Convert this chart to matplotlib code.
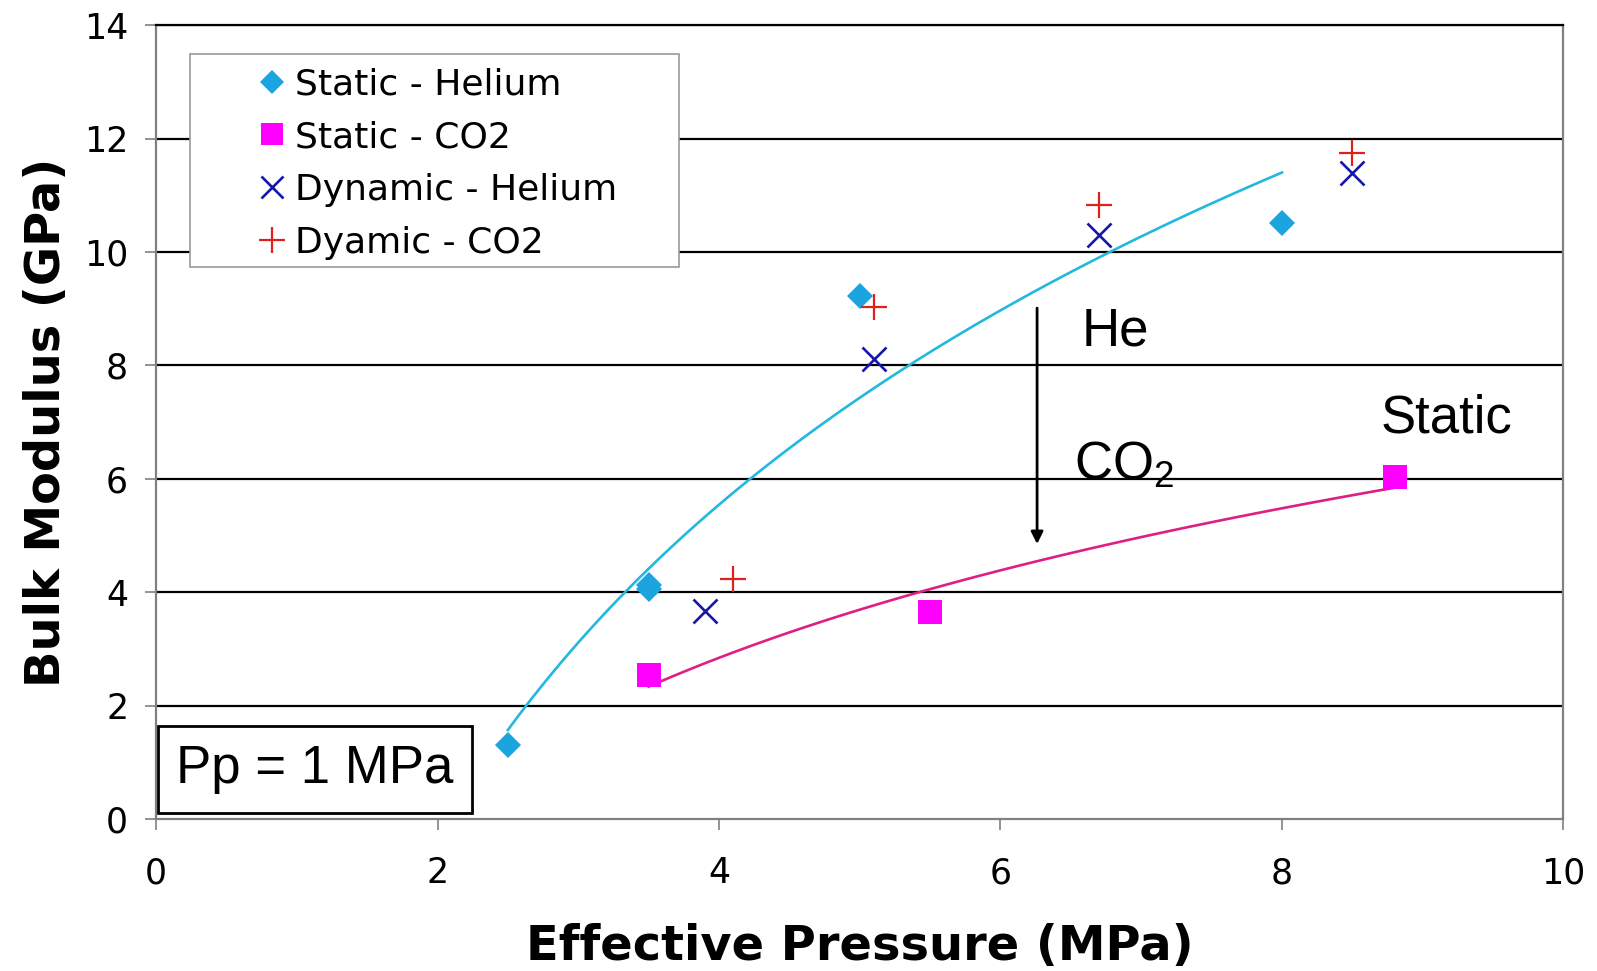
import numpy as np
import matplotlib
matplotlib.use('Agg')
import matplotlib.pyplot as plt
from matplotlib.patches import Rectangle

plt.rcParams['mathtext.fontset'] = 'custom'
plt.rcParams['mathtext.rm'] = 'Liberation Sans'

# Data (Effective Pressure MPa, Bulk Modulus GPa)
static_he_x = [2.5, 3.5, 3.5, 5.0, 8.0]
static_he_y = [1.3, 4.13, 4.06, 9.22, 10.52]
static_co2_x = [3.5, 5.5, 8.8]
static_co2_y = [2.54, 3.65, 6.04]
dyn_he_x = [3.9, 5.1, 6.7, 8.5]
dyn_he_y = [3.67, 8.11, 10.3, 11.4]
dyn_co2_x = [4.1, 5.1, 6.7, 8.5]
dyn_co2_y = [4.23, 9.03, 10.83, 11.74]

x_ticks = [0, 2, 4, 6, 8, 10]
y_ticks = [0, 2, 4, 6, 8, 10, 12, 14]


def log_trend(x, y, n=100):
    """Excel-style logarithmic trendline y = a ln(x) + b."""
    a, b = np.polyfit(np.log(x), y, 1)
    xs = np.linspace(min(x), max(x), n)
    return xs, a * np.log(xs) + b


fig = plt.figure(figsize=(15.97, 9.71), dpi=100)
ax = fig.add_axes([0.0977, 0.1566, 0.8813, 0.8174])

# trendlines
xs, ys = log_trend(static_he_x, static_he_y)
ax.plot(xs, ys, color='#22B8DF', linewidth=1.9, zorder=3)
xs, ys = log_trend(static_co2_x, static_co2_y)
ax.plot(xs, ys, color='#DE1F84', linewidth=1.9, zorder=3)

ax.plot(static_he_x, static_he_y, 'D', color='#1BA4E0', markersize=13,
        markeredgewidth=0, label='Static - Helium', zorder=4)
ax.plot(static_co2_x, static_co2_y, 's', color='#FF00FF', markersize=17,
        markeredgewidth=0, label='Static - CO2', zorder=4)
ax.plot(dyn_he_x, dyn_he_y, 'x', color='#1616A8', markersize=17,
        markeredgewidth=1.9, label='Dynamic - Helium', zorder=4)
ax.plot(dyn_co2_x, dyn_co2_y, '+', color='#E0201C', markersize=19,
        markeredgewidth=1.6, label='Dyamic - CO2', zorder=4)

ax.set_xlim(0, 10)
ax.set_ylim(0, 14)
ax.set_xticks(x_ticks)
ax.set_yticks(y_ticks)
ax.tick_params(axis='both', direction='out', length=8, width=1.2,
               color='#808080', labelsize=25)
ax.tick_params(axis='x', pad=19)
ax.tick_params(axis='y', pad=12)

ax.yaxis.grid(True, color='black', linewidth=1.6)
ax.yaxis.get_gridlines()[0].set_visible(False)
ax.set_axisbelow(True)
for side in ['left', 'bottom', 'right']:
    ax.spines[side].set_color('#808080')
    ax.spines[side].set_linewidth(1.6)
ax.spines['top'].set_color('black')
ax.spines['top'].set_linewidth(1.6)

ax.set_xlabel('Effective Pressure (MPa)', fontsize=34.5, fontweight='bold')
ax.set_ylabel('Bulk Modulus (GPa)', fontsize=34.5, fontweight='bold')
ax.xaxis.set_label_coords(0.50, -0.131)
ax.yaxis.set_label_coords(-0.061, 0.50)

# legend frame drawn separately (wide left margin as in the original)
ax.add_patch(Rectangle((0.0239, 0.696), 0.348, 0.268, transform=ax.transAxes,
                       facecolor='white', edgecolor='#999999', linewidth=1.2,
                       zorder=5))
leg = ax.legend(loc='upper left', bbox_to_anchor=(0.072, 0.947),
                borderaxespad=0, borderpad=0, fontsize=26, frameon=False,
                handlelength=0.8, handletextpad=0.25, labelspacing=0.52,
                markerscale=0.95)
leg.set_zorder(6)

# annotations
ax.annotate('', xy=(6.26, 4.8), xytext=(6.26, 9.06),
            arrowprops=dict(arrowstyle='-|>', color='black', lw=2,
                            mutation_scale=18))
ax.text(6.58, 8.6, 'He', fontsize=38, family='Liberation Sans',
        ha='left', va='center')
ax.text(6.52, 6.25, r'CO$_\mathregular{2}$', fontsize=38,
        family='Liberation Sans', ha='left', va='center')
ax.text(8.70, 7.07, 'Static', fontsize=38, family='Liberation Sans',
        ha='left', va='center')
ax.text(1.13, 0.88, 'Pp = 1 MPa', fontsize=38, family='Liberation Sans',
        ha='center', va='center',
        bbox=dict(boxstyle='square,pad=0.35', facecolor='white',
                  edgecolor='black', linewidth=2))

plt.savefig('out.png', dpi=100)
plt.close()
